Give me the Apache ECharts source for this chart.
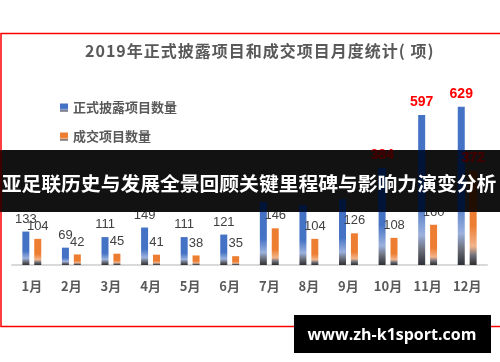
<!DOCTYPE html>
<html>
<head>
<meta charset="utf-8">
<script src="https://cdn.jsdelivr.net/npm/echarts@6/dist/echarts.min.js"></script>
<style>html,body{margin:0;padding:0;background:#fff;}#c{width:500px;height:362px;}</style>
</head>
<body>
<div id="c"></div>
<script>
const months = ['1月','2月','3月','4月','5月','6月','7月','8月','9月','10月','11月','12月'];
const disclosed = [133, 69, 111, 149, 111, 121, 250, 238, 260, 384, 597, 629];
const dealt = [104, 42, 45, 41, 38, 35, 146, 104, 126, 108, 160, 372];
const seriesNames = ['正式披露项目数量', '成交项目数量'];
const titleText = '2019年正式披露项目和成交项目月度统计( 项)';
const bannerText = '亚足联历史与发展全景回顾关键里程碑与影响力演变分析';
const watermark = 'www.zh-k1sport.com';
const redDisclosed = [9, 10, 11];
const redDealt = [11];

const cjk = '"Noto Sans CJK SC", "Liberation Sans", sans-serif';
function grad(base, light, dark) {
  return new echarts.graphic.LinearGradient(0, 0, 0, 1, [
    {offset: 0, color: base},
    {offset: 0.58, color: base},
    {offset: 0.8, color: light},
    {offset: 0.9, color: '#6b6f7a'},
    {offset: 1, color: dark}
  ]);
}
const blueGrad = grad('#4472C4', '#9BB1DE', '#2e2f35');
const orangeGrad = grad('#ED7D31', '#F2B48A', '#302c2a');

const normalLabel = {show: true, position: 'top', distance: 6, color: '#404040', fontSize: 13, fontFamily: '"Liberation Sans", sans-serif'};
const redLabel = {color: '#FF0000', fontWeight: 'bold', fontSize: 14};

function build(values, reds) {
  return values.map((v, i) => reds.includes(i) ? {value: v, label: redLabel} : v);
}

const spaced = titleText.split('').join('\u200A');

const chart = echarts.init(document.getElementById('c'), null, {renderer: 'canvas'});
chart.setOption({
  animation: false,
  backgroundColor: '#fff',
  title: {
    text: spaced, left: 80, top: 38,
    textStyle: {fontSize: 16, fontWeight: 'bold', color: '#595959', fontFamily: cjk}
  },
  legend: {
    orient: 'vertical', left: 55, top: 96,
    itemWidth: 8, itemHeight: 8, itemGap: 16, icon: 'rect',
    textStyle: {fontSize: 13, fontWeight: 'bold', color: '#595959', fontFamily: cjk, lineHeight: 13},
    data: seriesNames
  },
  grid: {left: 12, right: 13, top: 89, bottom: 97, containLabel: false},
  xAxis: {
    type: 'category', data: months,
    axisLine: {lineStyle: {color: '#D9D9D9', width: 2}},
    axisTick: {show: false},
    axisLabel: {margin: 15, fontSize: 13, fontWeight: 'bold', color: '#595959', fontFamily: cjk}
  },
  yAxis: {type: 'value', min: 0, max: 700, show: false, splitLine: {show: false}},
  series: [
    {name: seriesNames[0], type: 'bar', data: build(disclosed, redDisclosed), barWidth: 7, barGap: '70%',
     itemStyle: {color: blueGrad}, label: normalLabel},
    {name: seriesNames[1], type: 'bar', data: build(dealt, redDealt), barWidth: 7,
     itemStyle: {color: orangeGrad}, label: normalLabel}
  ],
  graphic: [
    {type: 'rect', z: 100, silent: true, shape: {x: 1, y: 33.5, width: 520, height: 293},
     style: {fill: 'none', stroke: '#FF0000', lineWidth: 1.5}},
    {type: 'rect', z: 110, silent: true, shape: {x: 0, y: 150, width: 500, height: 62},
     style: {fill: '#121212', blend: 'luminosity'}},
    {type: 'text', z: 120, silent: true, x: 249, y: 183,
     style: {text: bannerText, fill: '#fff', font: 'bold 19.8px "Noto Sans CJK SC", sans-serif', align: 'center', verticalAlign: 'middle'}},
    {type: 'rect', z: 120, silent: true, shape: {x: 294, y: 315, width: 197, height: 38},
     style: {fill: '#000'}},
    {type: 'text', z: 130, silent: true, x: 392, y: 335,
     style: {text: watermark, fill: '#fff', font: 'bold 16px "Open Sans", "Noto Sans", sans-serif', align: 'center', verticalAlign: 'middle'}}
  ]
});
</script>
</body>
</html>
